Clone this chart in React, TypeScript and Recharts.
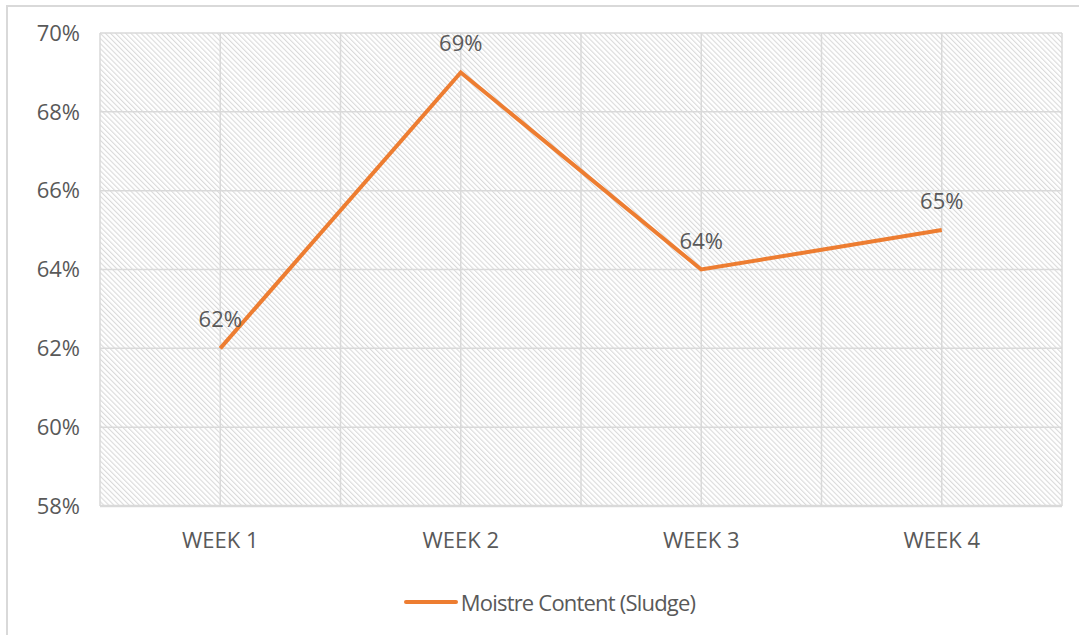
import React from 'react';
import { LineChart, Line, XAxis, YAxis, CartesianGrid, ReferenceLine, LabelList, Legend } from 'recharts';

const weeks = ['WEEK 1', 'WEEK 2', 'WEEK 3', 'WEEK 4'];
const moisture = [0.62, 0.69, 0.64, 0.65];
const yTicks = [0.58, 0.6, 0.62, 0.64, 0.66, 0.68, 0.7];
const gridX = [0.5, 1, 1.5, 2, 2.5, 3, 3.5, 4, 4.5];

const data = weeks.map((w, i) => ({ x: i + 1, week: w, value: moisture[i] }));

const FONT = '"Open Sans", Lato, sans-serif';
const TEXT = '#595959';
const GRID = '#d9d9d9';
const ORANGE = '#ED7D31';
const FS = 22;

const pct = (v: number) => `${Math.round(v * 100)}%`;

const LegendContent = () => (
  <div style={{ display: 'flex', alignItems: 'center', justifyContent: 'center', paddingLeft: 20, fontFamily: FONT, fontSize: FS, color: TEXT, letterSpacing: -0.8, lineHeight: '28px' }}>
    <svg width={54} height={10} style={{ marginRight: 3 }}>
      <line x1={2} y1={5} x2={52} y2={5} stroke={ORANGE} strokeWidth={4} strokeLinecap="round" />
    </svg>
    <span>Moistre Content (Sludge)</span>
  </div>
);

export default function App() {
  return (
    <div style={{ position: 'absolute', left: 0, top: 0, width: 1079, height: 635, background: '#fff', overflow: 'hidden' }}>
      <div style={{ position: 'absolute', left: 6, top: 5, width: 1200, height: 800, borderLeft: `2px solid ${GRID}`, borderTop: `2px solid ${GRID}` }} />
      <LineChart width={1079} height={635} data={data} margin={{ top: 33, right: 17, bottom: 51, left: 0 }} style={{ position: 'absolute', left: 0, top: 0 }}>
        <defs>
          <pattern id="hatch" patternUnits="userSpaceOnUse" width={3.6} height={3.6} patternTransform="rotate(-45)">
            <rect width={3.6} height={3.6} fill="#ffffff" />
            <line x1={0} y1={0} x2={0} y2={3.6} stroke="#dadada" strokeWidth={2.2} />
          </pattern>
        </defs>
        <CartesianGrid vertical={false} stroke={GRID} strokeWidth={1.5} fill="url(#hatch)" fillOpacity={1} />
        {gridX.map((g) => (
          <ReferenceLine key={g} x={g} stroke={GRID} strokeWidth={1.5} />
        ))}
        <XAxis
          dataKey="x"
          type="number"
          domain={[0.5, 4.5]}
          ticks={[1, 2, 3, 4]}
          tickFormatter={(v: number) => weeks[v - 1]}
          axisLine={{ stroke: GRID, strokeWidth: 2.5 }}
          tickLine={false}
          tick={{ fill: TEXT, fontSize: FS, fontFamily: FONT }}
          tickMargin={20}
          height={50}
        />
        <YAxis
          domain={[0.58, 0.7]}
          ticks={yTicks}
          tickFormatter={pct}
          axisLine={false}
          tickLine={false}
          tick={{ fill: TEXT, fontSize: FS, fontFamily: FONT }}
          tickMargin={14}
          width={100}
        />
        <Legend verticalAlign="bottom" content={<LegendContent />} wrapperStyle={{ top: 588, left: 0, width: 1079 }} />
        <Line
          dataKey="value"
          stroke={ORANGE}
          strokeWidth={4}
          dot={false}
          activeDot={false}
          isAnimationActive={false}
          strokeLinejoin="miter"
        >
          <LabelList dataKey="value" position="top" offset={21} formatter={(v: number) => pct(v)} fill={TEXT} fontSize={FS} fontFamily={FONT} />
        </Line>
      </LineChart>
    </div>
  );
}
